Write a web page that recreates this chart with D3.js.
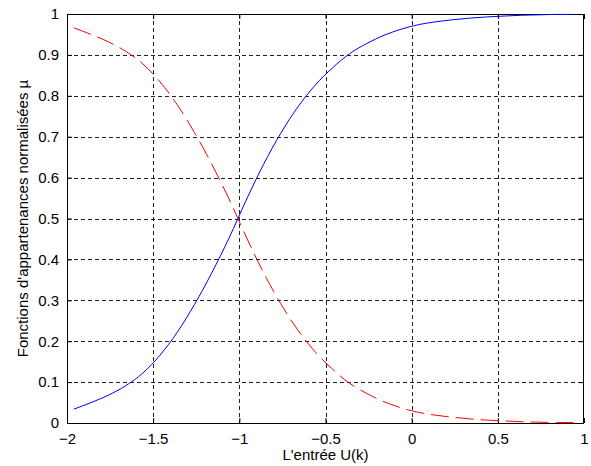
<!DOCTYPE html>
<html>
<head>
<meta charset="utf-8">
<script src="https://cdn.jsdelivr.net/npm/d3@7"></script>
<style>
  body { margin: 0; background: #fff; }
  text { font-family: "Liberation Sans", Arial, sans-serif; fill: #000; }
</style>
</head>
<body>
<div id="chart"></div>
<script>
// values
const inputs = [-1.96, -1.86, -1.76, -1.66, -1.56, -1.46, -1.36, -1.26, -1.16, -1.06,
  -0.96, -0.86, -0.76, -0.66, -0.56, -0.46, -0.36, -0.26, -0.16, -0.06,
  0.04, 0.14, 0.24, 0.34, 0.44, 0.54, 0.64, 0.74, 0.84, 0.94];
const muRising = [0.034, 0.050, 0.068, 0.091, 0.122, 0.166, 0.222, 0.290, 0.367, 0.452,
  0.545, 0.632, 0.708, 0.773, 0.826, 0.868, 0.903, 0.928, 0.948, 0.963,
  0.974, 0.981, 0.986, 0.990, 0.993, 0.995, 0.997, 0.998, 0.999, 0.999];
const muFalling = [0.966, 0.950, 0.932, 0.909, 0.878, 0.834, 0.778, 0.710, 0.633, 0.548,
  0.455, 0.368, 0.292, 0.227, 0.174, 0.132, 0.097, 0.072, 0.052, 0.037,
  0.026, 0.019, 0.014, 0.010, 0.007, 0.005, 0.003, 0.002, 0.001, 0.001];
const xTicks = [-2, -1.5, -1, -0.5, 0, 0.5, 1];
const yTicks = [0, 0.1, 0.2, 0.3, 0.4, 0.5, 0.6, 0.7, 0.8, 0.9, 1];
const xTitle = "L'entrée U(k)";
const yTitle = "Fonctions d'appartenances normalisées µ";

const W = 591, H = 466;
const margin = { top: 14, right: 7, bottom: 43, left: 67 };
const width = W - margin.left - margin.right;
const height = H - margin.top - margin.bottom;

const svg = d3.select('#chart').append('svg')
  .attr('width', W)
  .attr('height', H);

const g = svg.append('g')
  .attr('transform', 'translate(' + margin.left + ',' + margin.top + ')');

const x = d3.scaleLinear().domain([-2, 1]).range([0, width]);
const y = d3.scaleLinear().domain([0, 1]).range([height, 0]);

// grid
g.selectAll('.vgrid')
  .data(xTicks.slice(1, -1))
  .enter().append('line')
  .attr('x1', d => Math.round(x(d)) + 0.5).attr('x2', d => Math.round(x(d)) + 0.5)
  .attr('y1', 0).attr('y2', height)
  .attr('stroke', '#222').attr('stroke-dasharray', '4,3');

g.selectAll('.hgrid')
  .data(yTicks.slice(1, -1))
  .enter().append('line')
  .attr('y1', d => Math.round(y(d)) + 0.5).attr('y2', d => Math.round(y(d)) + 0.5)
  .attr('x1', 0).attr('x2', width)
  .attr('stroke', '#222').attr('stroke-dasharray', '4,3');

// axes (ticks inward, labels outside)
const fmt = d => d3.format('')(d);
const axB = g.append('g').attr('transform', 'translate(0,' + height + ')')
  .call(d3.axisBottom(x).tickValues(xTicks).tickSizeInner(-5).tickSizeOuter(0).tickPadding(10).tickFormat(fmt));
const axL = g.append('g')
  .call(d3.axisLeft(y).tickValues(yTicks).tickSizeInner(-5).tickSizeOuter(0).tickPadding(8).tickFormat(fmt));
const axT = g.append('g')
  .call(d3.axisTop(x).tickValues(xTicks).tickSizeInner(-5).tickSizeOuter(0).tickFormat(''));
const axR = g.append('g').attr('transform', 'translate(' + width + ',0)')
  .call(d3.axisRight(y).tickValues(yTicks).tickSizeInner(-5).tickSizeOuter(0).tickFormat(''));

[axB, axL, axT, axR].forEach(a => {
  a.select('.domain').remove();
  a.selectAll('line').attr('stroke', '#000');
  a.selectAll('text').style('font-size', '15px').style('font-family', '"Liberation Sans", Arial, sans-serif').attr('fill', '#000');
});

// box
g.append('rect')
  .attr('x', 0.5).attr('y', 0.5)
  .attr('width', width - 1).attr('height', height)
  .attr('fill', 'none').attr('stroke', '#000');

// curves
const line = d3.line().curve(d3.curveMonotoneX).x(d => x(d[0])).y(d => y(d[1]));

g.append('path')
  .datum(inputs.map((v, i) => [v, muFalling[i]]))
  .attr('d', line)
  .attr('fill', 'none').attr('stroke', '#ff0000').attr('stroke-width', 1)
  .attr('stroke-dasharray', '18,7');

g.append('path')
  .datum(inputs.map((v, i) => [v, muRising[i]]))
  .attr('d', line)
  .attr('fill', 'none').attr('stroke', '#0000ff').attr('stroke-width', 1);

// titles
svg.append('text')
  .attr('x', margin.left + width / 2)
  .attr('y', 460)
  .attr('text-anchor', 'middle')
  .style('font-size', '15px')
  .text(xTitle);

svg.append('text')
  .attr('transform', 'translate(28,' + (margin.top + height / 2) + ') rotate(-90)')
  .attr('text-anchor', 'middle')
  .style('font-size', '15px')
  .text(yTitle);
</script>
</body>
</html>
